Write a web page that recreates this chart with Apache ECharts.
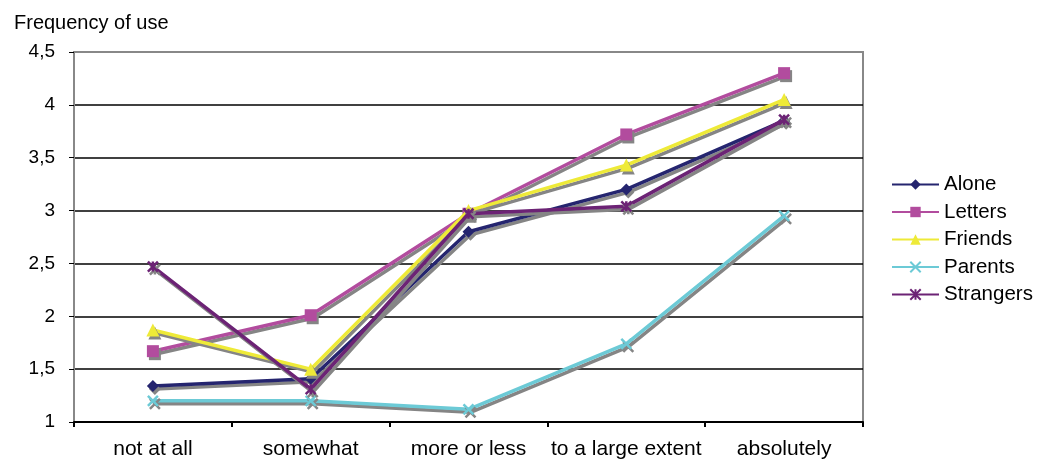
<!DOCTYPE html>
<html>
<head>
<meta charset="utf-8">
<script src="https://cdn.jsdelivr.net/npm/echarts@6/dist/echarts.min.js"></script>
<style>
  html, body { margin: 0; padding: 0; background: #fff; }
  #chart { width: 1040px; height: 460px; }
</style>
</head>
<body>
<div id="chart"></div>
<script>
// Answer categories along the x axis
const categories = ['not at all', 'somewhat', 'more or less', 'to a large extent', 'absolutely'];

// Mean frequency of use per group
const alone     = [1.34, 1.41, 2.80, 3.20, 3.85];
const letters   = [1.67, 2.01, 2.97, 3.72, 4.30];
const friends   = [1.87, 1.50, 3.00, 3.43, 4.05];
const parents   = [1.20, 1.20, 1.12, 1.74, 2.95];
const strangers = [2.47, 1.31, 2.97, 3.04, 3.86];

const seriesNames = ['Alone', 'Letters', 'Friends', 'Parents', 'Strangers'];
const seriesData = [alone, letters, friends, parents, strangers];
const colors = ['#25256f', '#b24c9e', '#eeea38', '#6ccad6', '#6c2375'];
const symbols = [
  'diamond',
  'rect',
  'triangle',
  'path://M0,0L10,10M10,0L0,10',
  'path://M0,0L10,10M10,0L0,10M5,0L5,10'
];
const symbolSizes = [12, 12, 13, 10, 10];

const FONT = 'Liberation Sans, Arial, sans-serif';
const chart = echarts.init(document.getElementById('chart'));

const series = seriesNames.map((name, i) => ({
  name,
  type: 'line',
  data: seriesData[i],
  symbol: symbols[i],
  symbolSize: symbolSizes[i],
  z: 3 + i,
  lineStyle: {
    color: colors[i],
    width: 3.5,
    shadowColor: '#858585',
    shadowOffsetX: 2,
    shadowOffsetY: 3,
    shadowBlur: 0
  },
  itemStyle: {
    color: colors[i],
    borderColor: colors[i],
    borderWidth: i >= 3 ? 2.5 : 0,
    shadowColor: '#858585',
    shadowOffsetX: 2,
    shadowOffsetY: 3,
    shadowBlur: 0
  },
  emphasis: { disabled: true },
  animation: false
}));

const splitColors = ['#000', '#000', '#000', '#000', '#000', '#000', '#000', '#888'];

chart.setOption({
  animation: false,
  backgroundColor: '#fff',
  textStyle: { fontFamily: FONT },
  title: {
    text: 'Frequency of use',
    left: 9,
    top: 8,
    textStyle: { fontSize: 20, fontWeight: 'normal', color: '#000', fontFamily: FONT }
  },
  legend: {
    orient: 'vertical',
    left: 886,
    top: 168,
    itemWidth: 47,
    itemHeight: 13,
    itemGap: 4.5,
    data: seriesNames,
    textStyle: { fontSize: 20.5, lineHeight: 20, color: '#000', padding: [3, 0, 0, 0] },
    selectedMode: false
  },
  grid: {
    left: 74,
    right: 177,
    top: 52,
    bottom: 37,
    show: true,
    borderColor: '#888',
    borderWidth: 2,
    backgroundColor: 'transparent'
  },
  xAxis: {
    type: 'category',
    data: categories,
    boundaryGap: true,
    axisLine: { lineStyle: { color: '#000', width: 2 } },
    axisTick: { show: true, interval: 0, length: 5, lineStyle: { color: '#000', width: 2 } },
    axisLabel: { color: '#000', fontSize: 21, margin: 17, interval: 0 }
  },
  yAxis: {
    type: 'value',
    min: 1,
    max: 4.5,
    interval: 0.5,
    axisLine: { show: true, lineStyle: { color: '#888', width: 2 } },
    axisTick: { show: true, length: 5, lineStyle: { color: '#000', width: 1 } },
    axisLabel: {
      color: '#000',
      fontSize: 19,
      margin: 19,
      formatter: v => String(v).replace('.', ',')
    },
    splitLine: { show: true, lineStyle: { color: splitColors, width: 1.5 } }
  },
  series
});
</script>
</body>
</html>
